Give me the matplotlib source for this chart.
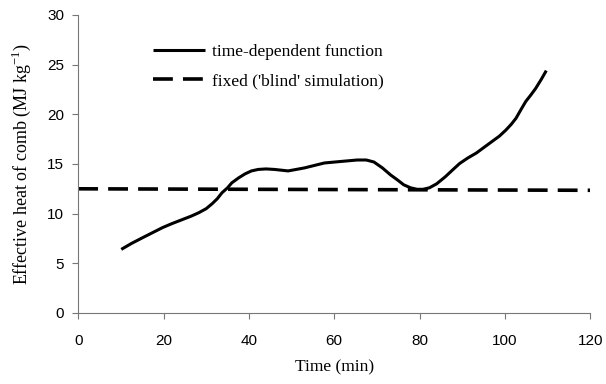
import matplotlib
matplotlib.use('Agg')
import matplotlib.pyplot as plt

# time-dependent effective heat of combustion
time_min = [10.1, 12.5, 15.2, 17.5, 19.8, 22, 24.4, 26.5, 28.3, 30, 31.4, 32.6, 33.7, 35, 36.0,
            37.6, 39.1, 40.6, 42.2, 44, 46, 49.2, 53, 57.7, 61.5, 65.4, 67.5, 69.3, 71.3, 73.2,
            74.8, 76.3, 77.9, 79.4, 80.8, 82.3, 84.0, 86, 88, 89.4, 91.3, 93.3, 95.2, 97.1,
            98.7, 100.2, 101.5, 102.6, 103.8, 104.9, 106, 107.2, 108.5, 109.7]
heat = [6.4, 7.0, 7.6, 8.1, 8.6, 9.0, 9.4, 9.75, 10.1, 10.5, 11.0, 11.5, 12.1, 12.6, 13.1,
        13.6, 14.0, 14.3, 14.45, 14.5, 14.45, 14.3, 14.6, 15.1, 15.25, 15.4, 15.4, 15.2, 14.6,
        13.9, 13.4, 12.9, 12.6, 12.45, 12.45, 12.6, 13.0, 13.7, 14.5, 15.05, 15.6, 16.1, 16.7,
        17.3, 17.8, 18.4, 19.0, 19.6, 20.5, 21.3, 21.9, 22.6, 23.5, 24.4]

# fixed value used in the blind simulation
fixed_time = [0, 120]
fixed_heat = [12.5, 12.35]

x_ticks = [0, 20, 40, 60, 80, 100, 120]
y_ticks = [0, 5, 10, 15, 20, 25, 30]

fig = plt.figure(figsize=(6.06, 3.84), dpi=100)
ax = fig.add_axes([0.129, 0.185, 0.845, 0.776])

ax.plot(time_min, heat, color='black', lw=2.2, solid_capstyle='butt',
        solid_joinstyle='round', label='time-dependent function')
ax.plot(fixed_time, fixed_heat, color='black', lw=2.6, dashes=(5.5, 2.8),
        label="fixed ('blind' simulation)")

ax.set_xlim(0, 120)
ax.set_ylim(0, 30)
ax.set_xticks(x_ticks)
ax.set_yticks(y_ticks)

for s in ['top', 'right']:
    ax.spines[s].set_visible(False)
for s in ['left', 'bottom']:
    ax.spines[s].set_color('#777777')
    ax.spines[s].set_linewidth(0.8)
ax.tick_params(direction='out', length=4, width=0.8, color='#777777',
               labelsize=11, pad=6)
for lab in ax.get_xticklabels() + ax.get_yticklabels():
    lab.set_family('Liberation Sans')
ax.tick_params(axis='x', pad=11)

ax.set_xlabel('Time (min)', family='Liberation Serif', fontsize=12.5, labelpad=8)
ax.set_ylabel('Effective heat of comb (MJ kg$^{\\mathregular{-1}}$)',
              family='Liberation Serif', fontsize=13, labelpad=10)

leg = ax.legend(loc='upper left', bbox_to_anchor=(0.115, 0.955), frameon=False,
                prop={'family': 'Liberation Serif', 'size': 12.5}, handlelength=3.0,
                handletextpad=0.4, labelspacing=0.75)

fig.savefig('out.png', dpi=100)
